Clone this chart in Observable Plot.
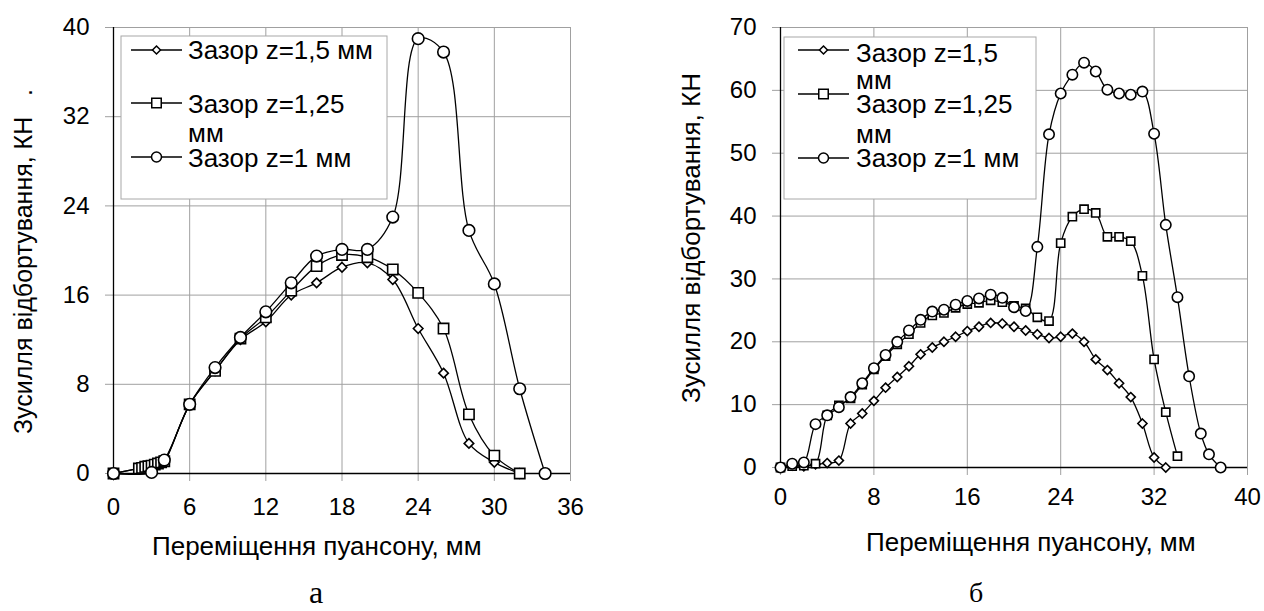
<!DOCTYPE html>
<html><head><meta charset="utf-8">
<script src="https://cdn.jsdelivr.net/npm/d3@7"></script>
<script src="https://cdn.jsdelivr.net/npm/@observablehq/plot@0.6"></script>
<style>
body{margin:0;background:#fff;}
#wrap{position:relative;width:1264px;height:611px;overflow:hidden;background:#fff;font-family:"Liberation Sans",Arial,sans-serif;}
#wrap > svg{position:absolute;top:0;}
</style></head><body><div id="wrap"></div>
<script>
// ---------- Panel "а" data ----------
const seriesNames = ["Зазор z=1,5 мм", "Зазор z=1,25 мм", "Зазор z=1 мм"];
const aXTicks = [0, 6, 12, 18, 24, 30, 36];
const aYTicks = [0, 8, 16, 24, 32, 40];
const aX15 = [0, 2, 2.25, 2.5, 2.75, 3, 3.25, 3.5, 3.75, 4, 6, 8, 10, 12, 14, 16, 18, 20, 22, 24, 26, 28, 30, 32];
const aY15 = [0, 0.45, 0.5, 0.55, 0.6, 0.7, 0.75, 0.85, 0.95, 1.05, 6.2, 9.2, 12.0, 13.6, 16.0, 17.1, 18.5, 18.9, 17.4, 13.0, 9.0, 2.7, 1.0, 0];
const aX125 = [0, 2, 2.25, 2.5, 2.75, 3, 3.25, 3.5, 3.75, 4, 6, 8, 10, 12, 14, 16, 18, 20, 22, 24, 26, 28, 30, 32];
const aY125 = [0, 0.45, 0.5, 0.6, 0.65, 0.7, 0.8, 0.9, 1.0, 1.1, 6.2, 9.2, 12.1, 14.0, 16.4, 18.6, 19.6, 19.4, 18.3, 16.2, 13.0, 5.3, 1.6, 0];
const aX1 = [0, 3, 4, 6, 8, 10, 12, 14, 16, 18, 20, 22, 24, 26, 28, 30, 32, 34];
const aY1 = [0, 0.1, 1.2, 6.2, 9.5, 12.2, 14.5, 17.1, 19.5, 20.1, 20.1, 23.0, 39.0, 37.8, 21.8, 17.0, 7.6, 0];

// ---------- Panel "б" data ----------
const bXTicks = [0, 8, 16, 24, 32, 40];
const bYTicks = [0, 10, 20, 30, 40, 50, 60, 70];
const bX15 = [0, 1, 2, 3, 4, 5, 6, 7, 8, 9, 10, 11, 12, 13, 14, 15, 16, 17, 18, 19, 20, 21, 22, 23, 24, 25, 26, 27, 28, 29, 30, 31, 32, 33];
const bY15 = [0, 0.3, 0.2, 0.5, 0.7, 1.1, 7.0, 8.6, 10.6, 12.7, 14.4, 16.1, 18.0, 19.1, 20.0, 20.8, 21.7, 22.4, 23.0, 22.9, 22.4, 21.8, 21.2, 20.6, 20.8, 21.3, 20.0, 17.2, 15.5, 13.4, 11.2, 7.0, 1.6, 0];
const bX125 = [0, 1, 2, 3, 4, 5, 6, 7, 8, 9, 10, 11, 12, 13, 14, 15, 16, 17, 18, 19, 20, 21, 22, 23, 24, 25, 26, 27, 28, 29, 30, 31, 32, 33, 34];
const bY125 = [0, 0.2, 0.3, 0.6, 8.3, 9.9, 11.0, 13.2, 15.6, 17.7, 19.6, 21.2, 23.0, 24.2, 24.6, 25.4, 26.0, 26.2, 26.6, 26.3, 25.7, 25.3, 23.9, 23.3, 35.7, 39.9, 41.1, 40.5, 36.7, 36.7, 36.0, 30.5, 17.2, 8.8, 1.8];
const bX1 = [0, 1, 2, 3, 4, 5, 6, 7, 8, 9, 10, 11, 12, 13, 14, 15, 16, 17, 18, 19, 20, 21, 22, 23, 24, 25, 26, 27, 28, 29, 30, 31, 32, 33, 34, 35, 36, 36.7, 37.7];
const bY1 = [0, 0.6, 0.8, 6.9, 8.3, 9.6, 11.2, 13.4, 15.8, 17.9, 20.0, 21.8, 23.5, 24.8, 25.1, 25.9, 26.5, 26.9, 27.5, 27.0, 25.5, 24.9, 35.1, 53.0, 59.5, 62.5, 64.4, 63.0, 60.1, 59.5, 59.3, 59.8, 53.1, 38.6, 27.1, 14.5, 5.4, 2.1, 0];

const xTitle = "Переміщення пуансону, мм";
const yTitle = "Зусилля відбортування, КН";

const rows = (xs, ys) => xs.map((x, i) => ({x, y: ys[i]}));
const FONT = "Liberation Sans, Arial, sans-serif";
const GRID = "#a0a0a0";

function panel(o) {
  const series = [
    {data: rows(o.x15, o.y15), symbol: "diamond2", r: o.rd},
    {data: rows(o.x125, o.y125), symbol: "square", r: o.rs},
    {data: rows(o.x1, o.y1), symbol: "circle", r: o.rc}
  ];
  const marks = [
    Plot.gridX(o.xTicks, {stroke: GRID, strokeOpacity: 1, strokeWidth: 1}),
    Plot.gridY(o.yTicks, {stroke: GRID, strokeOpacity: 1, strokeWidth: 1}),
    Plot.axisX(o.xTicks, {tickSize: 8, tickPadding: o.xPad, stroke: GRID, fontSize: 24, label: null, tickFormat: d => String(d)}),
    Plot.axisY(o.yTicks, {tickSize: 8, tickPadding: 16, stroke: GRID, fontSize: 24, label: null, tickFormat: d => String(d)}),
    Plot.ruleX([0], {stroke: "#000", strokeWidth: 1.3}),
    Plot.ruleY([0], {stroke: "#000", strokeWidth: 1.3})
  ];
  for (const s of series) {
    marks.push(Plot.line(s.data, {x: "x", y: "y", curve: "catmull-rom", stroke: "#000", strokeWidth: 1.3}));
    marks.push(Plot.dot(s.data, {x: "x", y: "y", symbol: () => s.symbol, r: s.r, fill: "#fff", stroke: "#000", strokeWidth: 1.6}));
  }
  const svg = Plot.plot({
    width: o.width, height: 611,
    marginLeft: o.ml, marginRight: o.mr, marginTop: 27, marginBottom: o.mb,
    x: {domain: o.xDomain, label: null},
    y: {domain: o.yDomain, label: null},
    symbol: {type: "identity"},
    style: {fontFamily: FONT, fontSize: "24px", color: "#000", background: "transparent", overflow: "visible"},
    marks
  });
  svg.style.position = "absolute";
  svg.style.left = o.left + "px";
  svg.style.top = "0px";
  svg.style.maxWidth = "none";
  const g = d3.select(svg).append("g").attr("font-family", FONT).attr("fill", "#000");
  // titles
  g.append("text").attr("transform", `translate(${o.yt[0]},${o.yt[1]}) rotate(-90)`)
    .attr("text-anchor", "start").attr("font-size", o.ytSize).style("white-space", "pre")
    .text(yTitle + o.ytSuffix);
  g.append("text").attr("x", o.xt[0]).attr("y", o.xt[1]).attr("text-anchor", "start")
    .attr("font-size", 26).text(xTitle);
  g.append("text").attr("x", o.cap[0]).attr("y", o.cap[1]).attr("text-anchor", "middle")
    .attr("font-family", "Liberation Serif, Times New Roman, serif").attr("font-size", o.capSize).text(o.capText);
  // legend
  const L = o.legend;
  g.append("rect").attr("x", L.box[0]).attr("y", L.box[1]).attr("width", L.box[2]).attr("height", L.box[3])
    .attr("fill", "#fff").attr("stroke", "#a8a8a8").attr("stroke-width", 1);
  const syms = [[d3.symbolDiamond2, 41], [d3.symbolSquare, 90], [d3.symbolCircle, 78]];
  L.sampleY.forEach((yy, i) => {
    g.append("line").attr("x1", L.line[0]).attr("x2", L.line[1]).attr("y1", yy).attr("y2", yy)
      .attr("stroke", "#000").attr("stroke-width", 1.3);
    g.append("path").attr("d", d3.symbol(syms[i][0], syms[i][1])())
      .attr("transform", `translate(${(L.line[0] + L.line[1]) / 2},${yy})`)
      .attr("fill", "#fff").attr("stroke", "#000").attr("stroke-width", 1.5);
  });
  L.lines.forEach(([txt, yb]) => {
    g.append("text").attr("x", L.tx).attr("y", yb).attr("font-size", 26).attr("text-anchor", "start").text(txt);
  });
  return svg;
}

const wrap = document.getElementById("wrap");
wrap.appendChild(panel({
  left: 0, width: 640, ml: 113, mr: 70, mb: 138,
  xDomain: [0, 36], yDomain: [0, 40], xTicks: aXTicks, yTicks: aYTicks, xPad: 16,
  x15: aX15, y15: aY15, x125: aX125, y125: aY125, x1: aX1, y1: aY1,
  rd: 4.3, rs: 5.8, rc: 5.8,
  yt: [32, 434], ytSize: 25, ytSuffix: "\u00a0\u00a0\u00a0.",
  xt: [152, 555], cap: [316, 603], capSize: 32, capText: "а",
  legend: {
    box: [121, 36, 266, 163], line: [131, 182], sampleY: [50, 103, 157], tx: 188,
    lines: [["Зазор z=1,5 мм", 59], ["Зазор z=1,25", 113], ["мм", 142], ["Зазор z=1 мм", 167]]
  }
}));
wrap.appendChild(panel({
  left: 640, width: 624, ml: 140, mr: 17, mb: 144,
  xDomain: [0, 40], yDomain: [0, 70], xTicks: bXTicks, yTicks: bYTicks, xPad: 12,
  x15: bX15, y15: bY15, x125: bX125, y125: bY125, x1: bX1, y1: bY1,
  rd: 4.1, rs: 4.6, rc: 5.2,
  yt: [60, 403], ytSize: 26, ytSuffix: "",
  xt: [226, 551], cap: [336, 602], capSize: 28, capText: "б",
  legend: {
    box: [144, 37, 252, 162], line: [158, 209], sampleY: [50, 94, 158], tx: 216,
    lines: [["Зазор z=1,5", 62], ["мм", 89], ["Зазор z=1,25", 113], ["мм", 143], ["Зазор z=1 мм", 167]]
  }
}));
</script></body></html>
